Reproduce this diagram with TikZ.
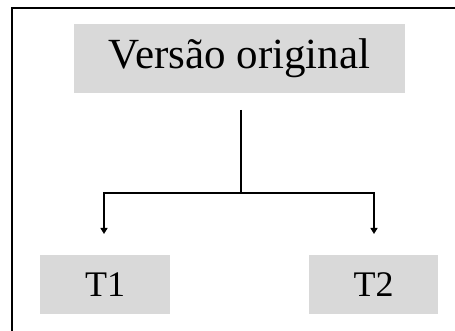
\documentclass[tikz,border=0pt]{standalone}
\usepackage{fontspec}
\setmainfont{Liberation Serif}
\usetikzlibrary{arrows.meta}
\begin{document}
\begin{tikzpicture}[x=1pt,y=-1pt,
  graybox/.style={fill=gray!30!white, draw=none, inner sep=0pt, text=black},
  conn/.style={line width=1.4pt, black},
  arr/.style={conn, -{Triangle[length=6pt,width=7pt]}}]
\useasboundingbox (0,0) rectangle (455,331);
\draw[line width=2pt] (11.5,331) -- (11.5,8.5) -- (455,8.5);
\node[graybox, minimum width=331pt, minimum height=69pt, font=\fontsize{43}{48}\selectfont] (top) at (239.5,58.5) {Versão original};
\node[graybox, minimum width=130pt, minimum height=59pt, font=\fontsize{36}{42}\selectfont] (t1) at (105,284.5) {T1};
\node[graybox, minimum width=129pt, minimum height=59pt, font=\fontsize{36}{42}\selectfont] (t2) at (373.5,284.5) {T2};
\coordinate (s) at (241,110);
\coordinate (m) at (241,193);
\coordinate (a1) at (104,234);
\coordinate (a2) at (374,234);
\draw[conn] (s) -- (m);
\draw[arr] (m) -| (a1);
\draw[arr] (m) -| (a2);
\end{tikzpicture}
\end{document}
